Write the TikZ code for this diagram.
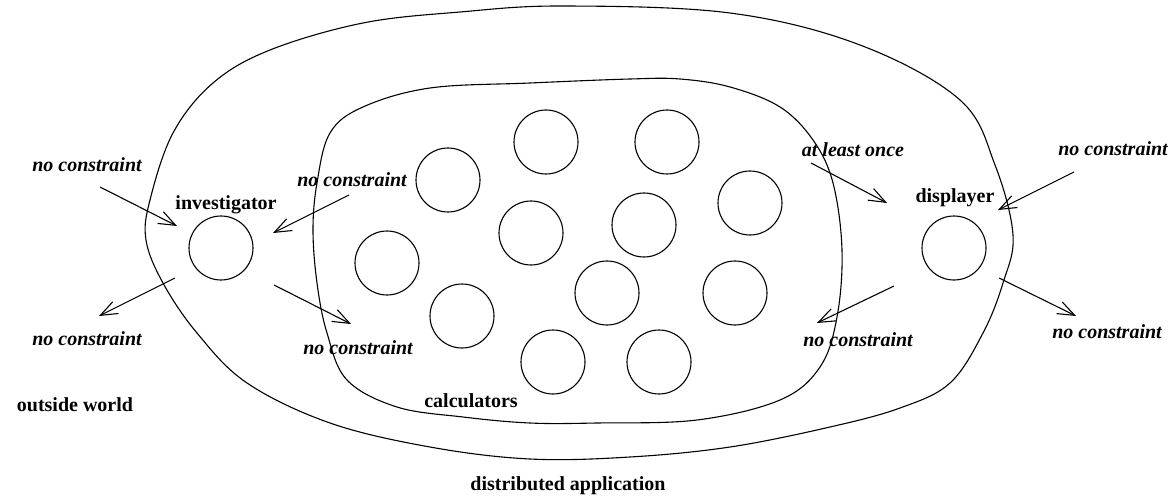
\documentclass[tikz,border=0pt]{standalone}
\usepackage{fontspec}
\setmainfont{Liberation Serif}
\usetikzlibrary{arrows.meta}

\begin{document}
\begin{tikzpicture}[x=1pt,y=-1pt,line width=1.1pt,
	proc node/.style={circle,draw,minimum size=64pt,inner sep=0pt},
	name text/.style={anchor=base,inner sep=0pt,font=\fontsize{20}{24}\selectfont\bfseries},
	rule text/.style={anchor=base,inner sep=0pt,font=\fontsize{20}{24}\selectfont\bfseries\itshape},
	rule arrow/.style={-{Straight Barb[length=17pt,width=13pt]}}]

	\useasboundingbox (0,0) rectangle (1175,497);

	% distributed application
	\draw plot[smooth cycle,tension=0.6] coordinates {(563,6) (730,13) (860,45) (960,100) (995,165)
		(1013,235) (1003,283) (983,333) (950,383) (900,408) (830,427) (730,447) (630,457)
		(530,459) (430,447) (330,423) (247,383) (197,333) (163,283) (146,240) (150,200)
		(173,133) (213,83) (270,50) (363,23) (460,12)};
	% calculators
	\draw plot[smooth cycle,tension=0.6] coordinates {(530,83) (630,79) (680,79) (730,87) (780,107)
		(813,140) (833,183) (842,250) (837,317) (820,367) (780,400) (697,420) (597,423)
		(530,423) (463,417) (397,407) (347,380) (327,333) (317,283) (313,230) (317,183)
		(330,133) (363,107) (430,88)};

	\node[proc node] (inv) at (221,248) {};
	\node[proc node] (disp) at (954,248) {};

	\node[proc node] (c1) at (448,180) {};
	\node[proc node] (c2) at (546,142) {};
	\node[proc node] (c3) at (667,142) {};
	\node[proc node] (c4) at (750,203) {};
	\node[proc node] (c5) at (531,233) {};
	\node[proc node] (c6) at (644,225) {};
	\node[proc node] (c7) at (387,263) {};
	\node[proc node] (c8) at (462,316) {};
	\node[proc node] (c9) at (607,293) {};
	\node[proc node] (c10) at (735,293) {};
	\node[proc node] (c11) at (553,362) {};
	\node[proc node] (c12) at (659,362) {};

	\node[name text] (invlabel) at (226,210) {investigator};
	\node[name text] (displabel) at (955,203) {displayer};
	\node[name text] (calclabel) at (471,407) {calculators};
	\node[name text] (applabel) at (568,490) {distributed application};
	\node[name text] (worldlabel) at (75,411) {outside world};

	\node[rule text] (r1) at (87,172) {no constraint};
	\node[rule text] (r2) at (87,345) {no constraint};
	\node[rule text] (r3) at (352,187) {no constraint};
	\node[rule text] (r4) at (358,354) {no constraint};
	\node[rule text] (r5) at (853,157) {at least once};
	\node[rule text] (r6) at (1113,156) {no constraint};
	\node[rule text] (r7) at (858,346) {no constraint};
	\node[rule text] (r8) at (1107,338) {no constraint};

	\coordinate (a1) at (100,187);  \coordinate (b1) at (177,226);
	\coordinate (a2) at (349,195);  \coordinate (b2) at (273,233);
	\coordinate (a3) at (175,278);  \coordinate (b3) at (99,316);
	\coordinate (a4) at (274,285);  \coordinate (b4) at (351,324);
	\coordinate (a5) at (811,163);  \coordinate (b5) at (887,203);
	\coordinate (a6) at (1074,172); \coordinate (b6) at (998,210);
	\coordinate (a7) at (894,286);  \coordinate (b7) at (817,323);
	\coordinate (a8) at (999,278);  \coordinate (b8) at (1076,316);

	\path[rule arrow]
		(a1) edge (b1)
		(a2) edge (b2)
		(a3) edge (b3)
		(a4) edge (b4)
		(a5) edge (b5)
		(a6) edge (b6)
		(a7) edge (b7)
		(a8) edge (b8)
		;

\end{tikzpicture}
\end{document}
